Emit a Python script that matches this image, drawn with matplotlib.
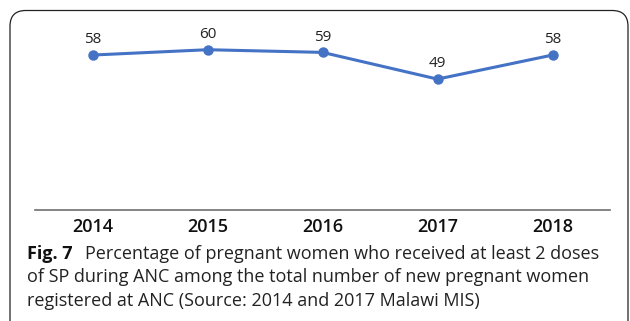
import matplotlib
matplotlib.use("Agg")
import matplotlib.pyplot as plt
from matplotlib.patches import FancyBboxPatch

years = ["2014", "2015", "2016", "2017", "2018"]
pct = [58, 60, 59, 49, 58]

caption_bold = "Fig. 7"
caption_lines = [
    "Percentage of pregnant women who received at least 2 doses",
    "of SP during ANC among the total number of new pregnant women",
    "registered at ANC (Source: 2014 and 2017 Malawi MIS)",
]

BLUE = "#4472C4"
W, H = 630, 321

plt.rcParams["font.family"] = ["Open Sans", "DejaVu Sans"]

fig = plt.figure(figsize=(W / 100, H / 100), dpi=100)

# rounded frame around the figure panel
frame = FancyBboxPatch((10 / W, -0.2), 618 / W, 1.2 - 10.5 / H,
                       boxstyle="round,pad=0,rounding_size=0.025",
                       transform=fig.transFigure, fill=False,
                       edgecolor="#222222", linewidth=0.9,
                       mutation_aspect=W / H)
fig.patches.append(frame)

ax = fig.add_axes([35 / W, 1 - 210 / H, 575 / W, 187 / H])
x = list(range(len(years)))
ax.plot(x, pct, color=BLUE, linewidth=2.2, marker="o", markersize=6.5)
for xi, v in zip(x, pct):
    ax.annotate(str(v), (xi, v), xytext=(0, 8.5), textcoords="offset points",
                ha="center", va="baseline", fontsize=11, color="#222222")

ax.set_xlim(-0.5, 4.5)
ax.set_ylim(0, 70)
ax.set_xticks(x)
ax.set_xticklabels(years, fontsize=13, fontweight="semibold", color="#111111")
ax.set_yticks([])
ax.tick_params(axis="x", length=0, pad=6)
for side in ["top", "left", "right"]:
    ax.spines[side].set_visible(False)
ax.spines["bottom"].set_color("#6f6f6f")
ax.spines["bottom"].set_linewidth(1.2)

# caption
fig.canvas.draw()
renderer = fig.canvas.get_renderer()
x0 = 27 / W
baselines = [259, 282, 306]
bold = fig.text(x0, 1 - baselines[0] / H, caption_bold, fontsize=13,
                fontweight="bold", va="baseline", ha="left", color="#111111")
bb = bold.get_window_extent(renderer)
fig.text((bb.x1 + 12) / W, 1 - baselines[0] / H, caption_lines[0], fontsize=13,
         va="baseline", ha="left", color="#222222")
for line, yb in zip(caption_lines[1:], baselines[1:]):
    fig.text(x0, 1 - yb / H, line, fontsize=13, va="baseline", ha="left",
             color="#222222")

fig.savefig("out.png", dpi=100)
